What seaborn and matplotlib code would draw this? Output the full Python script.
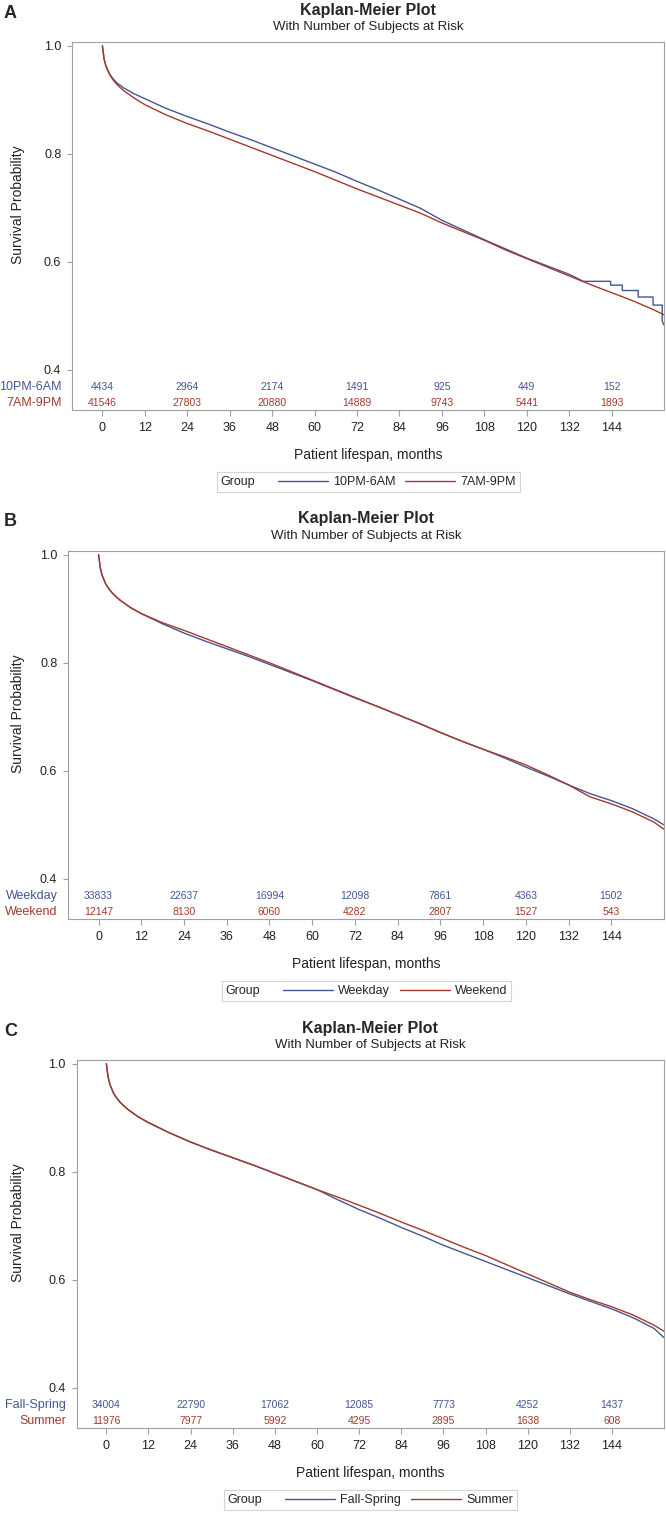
import numpy as np
import pandas as pd
import seaborn as sns
import matplotlib.pyplot as plt
from matplotlib.lines import Line2D
from matplotlib.offsetbox import DrawingArea
from matplotlib.transforms import blended_transform_factory

sns.set_style("white")
plt.rcParams['font.family'] = ['Liberation Sans', 'DejaVu Sans']

BLUE = '#445694'
RED = '#A23A2E'

# ---- data ----
months = [0, 0.5, 1, 2, 3, 4, 6, 9, 12, 18, 24, 30, 36, 42, 48, 54, 60, 66, 72, 78,
          84, 90, 96, 102, 108, 114, 120, 126, 132, 138, 144, 150, 156, 158.8]

# panel A: time of day
months_a_night = [0, 0.5, 1, 2, 3, 4, 6, 9, 12, 18, 24, 30, 36, 42, 48, 54, 60, 66, 72, 78,
                  84, 90, 96, 102, 108, 114, 120, 126, 132, 136, 143.7, 143.7, 147, 147,
                  151.5, 151.5, 155.7, 155.7, 158.3, 158.3, 158.8]
surv_a_night = [1.0, 0.975, 0.963, 0.948, 0.939, 0.932, 0.922, 0.911, 0.902, 0.884, 0.869,
                0.855, 0.840, 0.826, 0.811, 0.796, 0.781, 0.766, 0.749, 0.733, 0.716, 0.699,
                0.677, 0.659, 0.641, 0.624, 0.607, 0.592, 0.577, 0.564, 0.564, 0.557, 0.557,
                0.547, 0.547, 0.535, 0.535, 0.520, 0.520, 0.490, 0.483]
surv_a_day = [1.0, 0.975, 0.962, 0.947, 0.937, 0.929, 0.917, 0.903, 0.891, 0.872, 0.856,
              0.842, 0.827, 0.812, 0.797, 0.782, 0.767, 0.751, 0.735, 0.720, 0.705, 0.690,
              0.672, 0.656, 0.640, 0.622, 0.606, 0.590, 0.574, 0.558, 0.543, 0.528, 0.511, 0.502]

# panel B: day of week
surv_b_weekday = [1.0, 0.975, 0.962, 0.946, 0.936, 0.928, 0.916, 0.902, 0.891, 0.872, 0.855,
                  0.840, 0.826, 0.812, 0.797, 0.782, 0.767, 0.751, 0.735, 0.720, 0.704, 0.688,
                  0.671, 0.655, 0.640, 0.624, 0.607, 0.591, 0.574, 0.558, 0.545, 0.530, 0.511, 0.500]
surv_b_weekend = [1.0, 0.975, 0.962, 0.946, 0.936, 0.928, 0.916, 0.902, 0.891, 0.874, 0.860,
                  0.845, 0.830, 0.815, 0.800, 0.784, 0.768, 0.752, 0.736, 0.720, 0.704, 0.688,
                  0.671, 0.655, 0.640, 0.626, 0.611, 0.593, 0.574, 0.552, 0.539, 0.524, 0.505, 0.492]

# panel C: season
surv_c_fallspring = [1.0, 0.975, 0.962, 0.946, 0.936, 0.928, 0.916, 0.902, 0.891, 0.872, 0.855,
                     0.840, 0.826, 0.812, 0.797, 0.782, 0.767, 0.748, 0.730, 0.714, 0.697, 0.681,
                     0.664, 0.649, 0.634, 0.619, 0.604, 0.589, 0.574, 0.560, 0.546, 0.530, 0.510, 0.493]
surv_c_summer = [1.0, 0.975, 0.962, 0.946, 0.936, 0.928, 0.916, 0.902, 0.891, 0.872, 0.855,
                 0.840, 0.826, 0.812, 0.797, 0.782, 0.767, 0.753, 0.738, 0.723, 0.707, 0.692,
                 0.676, 0.660, 0.645, 0.628, 0.611, 0.594, 0.577, 0.563, 0.550, 0.535, 0.516, 0.505]

risk_months = [0, 24, 48, 72, 96, 120, 144]
risk_a_night = [4434, 2964, 2174, 1491, 925, 449, 152]
risk_a_day = [41546, 27803, 20880, 14889, 9743, 5441, 1893]
risk_b_weekday = [33833, 22637, 16994, 12098, 7861, 4363, 1502]
risk_b_weekend = [12147, 8130, 6060, 4282, 2807, 1527, 543]
risk_c_fallspring = [34004, 22790, 17062, 12085, 7773, 4252, 1437]
risk_c_summer = [11976, 7977, 5992, 4295, 2895, 1638, 608]

panels = [
    ('A', ['10PM-6AM', '7AM-9PM'], [months_a_night, months], [surv_a_night, surv_a_day],
     [risk_a_night, risk_a_day]),
    ('B', ['Weekday', 'Weekend'], [months, months], [surv_b_weekday, surv_b_weekend],
     [risk_b_weekday, risk_b_weekend]),
    ('C', ['Fall-Spring', 'Summer'], [months, months], [surv_c_fallspring, surv_c_summer],
     [risk_c_fallspring, risk_c_summer]),
]

W, H = 666, 1514
fig = plt.figure(figsize=(W / 100, H / 100), dpi=100)

lefts = [72.3, 68.3, 76.5]
R = 664
FRAME = '#A0A0A0'
TXT = '#222222'

for p, (letter, names, tt, ss, risks) in enumerate(panels):
    dy = 509 * p
    L = lefts[p]
    top, bot = 42.3 + dy, 410 + dy
    ax = fig.add_axes([L / W, 1 - bot / H, (R - L) / W, (bot - top) / H])

    df = pd.concat([
        pd.DataFrame({'month': tt[i], 'surv': ss[i], 'group': names[i]}) for i in range(2)
    ])
    sns.lineplot(data=df, x='month', y='surv', hue='group', palette=[BLUE, RED],
                 estimator=None, sort=False, linewidth=1.0, legend=False, ax=ax)

    ax.set_xlim(-8.5, 158.8)
    ax.set_ylim(0.4 - 40 / 540, 1.0 + 3.4 / 540)
    ax.set_xticks(range(0, 145, 12))
    ax.set_yticks([0.4, 0.6, 0.8, 1.0])
    ax.set_yticklabels(['0.4', '0.6', '0.8', '1.0'])
    ax.tick_params(axis='x', length=4.3, width=0.8, color=FRAME, pad=4.3,
                   labelsize=9, labelcolor=TXT, direction='out', bottom=True)
    ax.tick_params(axis='y', length=3.6, width=0.8, color=FRAME, pad=4.3,
                   labelsize=9, labelcolor=TXT, direction='out', left=True)
    ax.set_xlabel('')
    ax.set_ylabel('')
    for sp in ax.spines.values():
        sp.set_color(FRAME)
        sp.set_linewidth(0.8)

    # number at risk table inside the frame
    rows_y = [0.4 - 17.3 / 540, 0.4 - 33.3 / 540]
    cols = [BLUE, RED]
    trans = blended_transform_factory(ax.transAxes, ax.transData)
    for i in range(2):
        for m, n in zip(risk_months, risks[i]):
            ax.text(m, rows_y[i], str(n), ha='center', va='center', fontsize=7.5, color=cols[i])
        ax.annotate(names[i], xy=(0, rows_y[i]), xycoords=trans, xytext=(-7.5, 0),
                    textcoords='offset points', ha='right', va='center', fontsize=9,
                    color=cols[i], annotation_clip=False)

    cx = (L + R) / 2 / W
    fig.text(4 / W, 1 - (13 + dy) / H, letter, fontsize=13, fontweight='bold', ha='left', va='center')
    fig.text(cx, 1 - (10 + dy) / H, 'Kaplan-Meier Plot', fontsize=11.5, fontweight='bold',
             ha='center', va='center')
    fig.text(cx, 1 - (27 + dy) / H, 'With Number of Subjects at Risk', fontsize=9.5,
             ha='center', va='center', color=TXT)
    fig.text(cx, 1 - (455 + dy) / H, 'Patient lifespan, months', fontsize=10,
             ha='center', va='center', color=TXT)
    fig.text(18 / W, 1 - (205 + dy) / H, 'Survival Probability', fontsize=10, rotation=90,
             ha='center', va='center', color=TXT)

    handles = [Line2D([], [], color=BLUE, lw=1.0), Line2D([], [], color=RED, lw=1.0)]
    leg = ax.legend(handles, names, title='Group', ncol=2, loc='center',
                    bbox_to_anchor=(cx, 1 - (482 + dy) / H), bbox_transform=fig.transFigure,
                    fontsize=9, title_fontsize=9, frameon=True, fancybox=False,
                    handlelength=4.0, handletextpad=0.4, columnspacing=0.8,
                    borderpad=0.3, borderaxespad=0)
    leg.get_frame().set_edgecolor('#C8C8C8')
    leg.get_frame().set_linewidth(0.8)
    # put the legend title on the same row as the entries
    vbox = leg._legend_box
    title_box, handle_box = vbox.get_children()[0], vbox.get_children()[1]
    vbox._children = [handle_box]
    handle_box._children = [title_box, DrawingArea(2, 1)] + handle_box.get_children()

fig.savefig('out.png', dpi=100)
